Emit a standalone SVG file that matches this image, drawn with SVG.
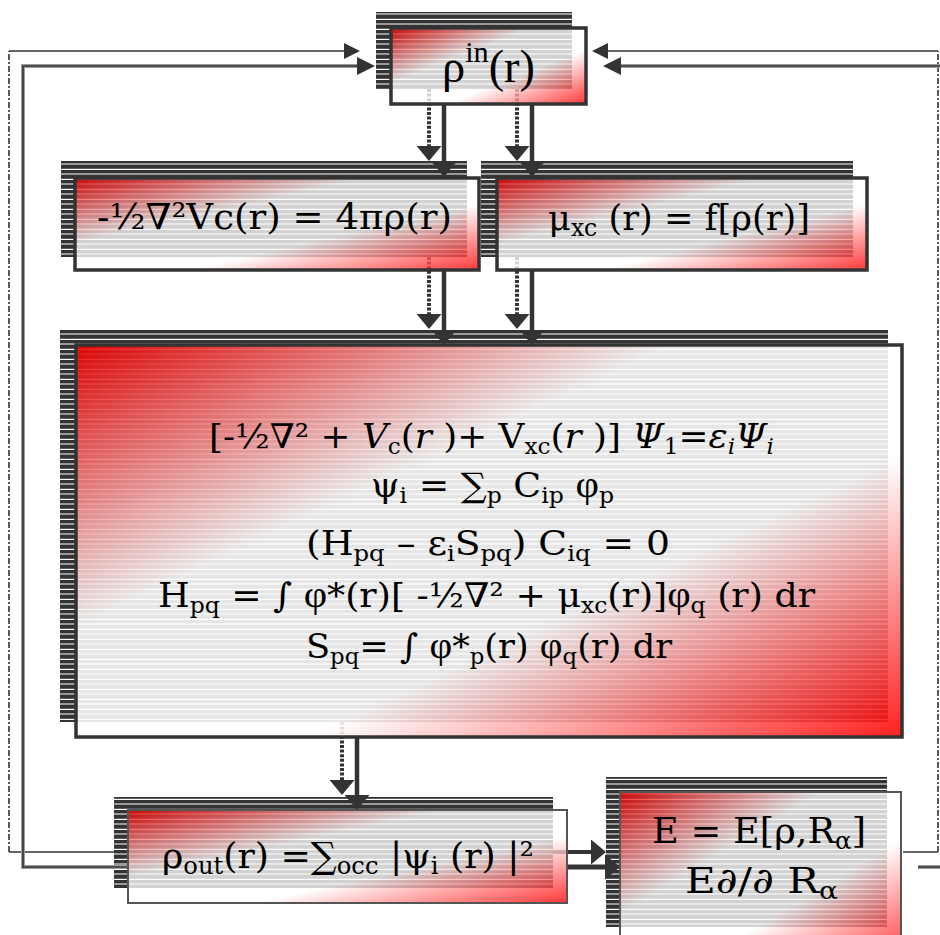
<svg xmlns="http://www.w3.org/2000/svg" width="940" height="935" viewBox="0 0 940 935">
<style>
.sh{fill:url(#stripes)}
.box{fill:url(#grad);fill-opacity:0.78;stroke:#333;stroke-width:3.5}
.big{fill:url(#grad);fill-opacity:0.88;stroke:#333;stroke-width:3.5}
.thin{stroke:#555;stroke-width:2}
.t{font-family:"DejaVu Serif","Liberation Serif",serif;fill:#000}
.tr{font-family:"Liberation Serif","DejaVu Serif",serif;fill:#000}
.ph{font-family:"Liberation Serif","DejaVu Serif",serif}
.thick{fill:none;stroke:#333;stroke-width:4.5;marker-end:url(#ah)}
.dash{fill:none;stroke:#333;stroke-width:4;stroke-dasharray:3 1.6;marker-end:url(#ah)}
.fbs{fill:none;stroke:#333;stroke-width:1.6}
.fbv{fill:none;stroke:#333;stroke-width:1.6;stroke-dasharray:6 2 2 2}
.fbg{fill:none;stroke:#9c9c9c;stroke-width:4}
.fbc{fill:none;stroke:#333;stroke-width:1.6}
</style>
<defs>
<pattern id="stripes" width="10" height="10" patternUnits="userSpaceOnUse">
<rect width="10" height="10" fill="#333"/>
<rect y="3.5" width="10" height="1" fill="#fff"/>
<rect y="8.8" width="10" height="1.2" fill="#fff"/>
</pattern>
<linearGradient id="grad" x1="0" y1="0" x2="1" y2="1">
<stop offset="0" stop-color="#ee0000"/>
<stop offset="0.36" stop-color="#ffffff"/>
<stop offset="0.64" stop-color="#ffffff"/>
<stop offset="1" stop-color="#ff0000"/>
</linearGradient>
<marker id="ah" viewBox="0 0 15 25" refX="9" refY="12.5" markerWidth="15" markerHeight="25" markerUnits="userSpaceOnUse" orient="auto">
<path d="M0,0 L15,12.5 L0,25 z" fill="#333"/>
</marker>
<marker id="ahs" viewBox="0 0 18 18" refX="12" refY="9" markerWidth="18" markerHeight="18" markerUnits="userSpaceOnUse" orient="auto">
<path d="M0,0 L18,9 L0,18 z" fill="#333"/>
</marker>
<marker id="ahd" viewBox="0 0 16 16" refX="10" refY="8" markerWidth="16" markerHeight="16" markerUnits="userSpaceOnUse" orient="auto">
<path d="M0,0 L16,8 L0,16 z" fill="#333"/>
</marker>
</defs>
<rect width="940" height="935" fill="#fff"/>

<g id="shadows">
<rect class="sh" x="376" y="12" width="196" height="77"/>
<rect class="sh" x="61" y="161" width="406" height="96"/>
<rect class="sh" x="481" y="161" width="372" height="96"/>
<rect class="sh" x="60" y="329" width="828" height="393"/>
<rect class="sh" x="114" y="797" width="439" height="91"/>
<rect class="sh" x="606" y="777" width="281" height="150"/>
</g>

<g id="connectors">
<path class="fbs" d="M114,852 H9"/>
<path class="fbv" d="M9,852 V51"/>
<path class="fbs" d="M9,51 H354" marker-end="url(#ahd)"/>
<path class="fbs" d="M903,852 H938"/>
<path class="fbv" d="M938,852 V51"/>
<path class="fbs" d="M938,51 H598" marker-end="url(#ahd)"/>
<path class="fbg" d="M128,867 H23 V66 H369"/>
<path class="fbc" d="M128,867 H23 V66 H369" marker-end="url(#ahs)"/>
<path class="fbg" d="M918,867 H955 V66 H609"/>
<path class="fbc" d="M918,867 H955 V66 H609" marker-end="url(#ahs)"/>
<path class="dash" d="M429,89 V155"/>
<path class="dash" d="M517,89 V155"/>
<path class="dash" d="M429,257 V323"/>
<path class="dash" d="M517,257 V323"/>
<path class="dash" d="M342,722 V789"/>
<path class="thick" d="M553,852 H600" style="stroke-width:4"/>
<path class="thick" d="M444,104 V171"/>
<path class="thick" d="M532,104 V171"/>
<path class="thick" d="M444,270 V339"/>
<path class="thick" d="M532,270 V339"/>
<path class="thick" d="M357,737 V804"/>
<path class="thick" d="M567,867 H614" style="stroke-width:5"/>
</g>

<g id="rho-in">
<rect class="box" x="391" y="28" width="195" height="76"/>
<text class="tr" x="442" y="82" font-size="46" textLength="93" lengthAdjust="spacingAndGlyphs">ρ<tspan font-size="30" dy="-20">in</tspan><tspan dy="20">(r)</tspan></text>
</g>

<g id="poisson">
<rect class="box" x="75" y="178" width="404" height="92"/>
<text class="t" x="97" y="229" font-size="36" textLength="355" lengthAdjust="spacingAndGlyphs">-½∇²Vc(r) = 4πρ(r)</text>
</g>

<g id="xc">
<rect class="box" x="497" y="178" width="370" height="92"/>
<text class="t" x="548" y="230" font-size="36" textLength="262" lengthAdjust="spacingAndGlyphs">μ<tspan font-size="24" dy="6">xc</tspan><tspan dy="-6"> (r) = f[ρ(r)]</tspan></text>
</g>

<g id="kohn-sham">
<rect class="big" x="76" y="345" width="826" height="392"/>
<text class="t" x="209" y="448" font-size="34" textLength="565" lengthAdjust="spacingAndGlyphs">[-½∇² + <tspan font-style="italic">V</tspan><tspan font-size="22" dy="6">c</tspan><tspan dy="-6">(</tspan><tspan font-style="italic">r</tspan> )+ V<tspan font-size="22" dy="6">xc</tspan><tspan dy="-6">(</tspan><tspan font-style="italic">r</tspan> )] <tspan font-style="italic">Ψ</tspan><tspan font-size="22" dy="6">1</tspan><tspan dy="-6">=</tspan><tspan font-style="italic">ε</tspan><tspan font-style="italic" font-size="22" dy="6">i</tspan><tspan font-style="italic" dy="-6">Ψ</tspan><tspan font-style="italic" font-size="22" dy="6">i</tspan></text>
<text class="t" x="371" y="497" font-size="34" textLength="243" lengthAdjust="spacingAndGlyphs">ψ<tspan font-size="22" dy="6">i</tspan><tspan dy="-6"> = ∑</tspan><tspan font-size="22" dy="6">p</tspan><tspan dy="-6"> C</tspan><tspan font-size="22" dy="6">ip</tspan><tspan dy="-6"> </tspan><tspan class="ph" font-size="38">φ</tspan><tspan font-size="22" dy="6">p</tspan></text>
<text class="t" x="306" y="555" font-size="34" textLength="364" lengthAdjust="spacingAndGlyphs">(H<tspan font-size="22" dy="6">pq</tspan><tspan dy="-6"> – ε</tspan><tspan font-size="22" dy="6">i</tspan><tspan dy="-6">S</tspan><tspan font-size="22" dy="6">pq</tspan><tspan dy="-6">) C</tspan><tspan font-size="22" dy="6">iq</tspan><tspan dy="-6"> = 0</tspan></text>
<text class="t" x="158" y="607" font-size="34" textLength="657" lengthAdjust="spacingAndGlyphs">H<tspan font-size="22" dy="6">pq</tspan><tspan dy="-6"> = ∫ </tspan><tspan class="ph" font-size="38">φ</tspan>*(r)[ -½∇² + μ<tspan font-size="22" dy="6">xc</tspan><tspan dy="-6">(r)]</tspan><tspan class="ph" font-size="38">φ</tspan><tspan font-size="22" dy="6">q</tspan><tspan dy="-6"> (r) dr</tspan></text>
<text class="t" x="306" y="658" font-size="34" textLength="366" lengthAdjust="spacingAndGlyphs">S<tspan font-size="22" dy="6">pq</tspan><tspan dy="-6">= ∫ </tspan><tspan class="ph" font-size="38">φ</tspan>*<tspan font-size="22" dy="6">p</tspan><tspan dy="-6">(r) </tspan><tspan class="ph" font-size="38">φ</tspan><tspan font-size="22" dy="6">q</tspan><tspan dy="-6">(r) dr</tspan></text>
</g>

<g id="rho-out">
<rect class="box thin" x="128" y="810" width="439" height="93"/>
<text class="t" x="162" y="868" font-size="36" textLength="372" lengthAdjust="spacingAndGlyphs">ρ<tspan font-size="24" dy="6">out</tspan><tspan dy="-6">(r) =∑</tspan><tspan font-size="24" dy="6">occ</tspan><tspan dy="-6"> |ψ</tspan><tspan font-size="24" dy="6">i</tspan><tspan dy="-6"> (r) |²</tspan></text>
</g>

<g id="energy">
<rect class="box thin" x="620" y="792" width="281" height="170"/>
<text class="t" x="652" y="843" font-size="36" textLength="214" lengthAdjust="spacingAndGlyphs">E = E[ρ,R<tspan font-size="24" dy="6">α</tspan><tspan dy="-6">]</tspan></text>
<text class="t" x="685" y="893" font-size="36" textLength="153" lengthAdjust="spacingAndGlyphs">E∂/∂ R<tspan font-size="24" dy="6">α</tspan></text>
</g>
</svg>
